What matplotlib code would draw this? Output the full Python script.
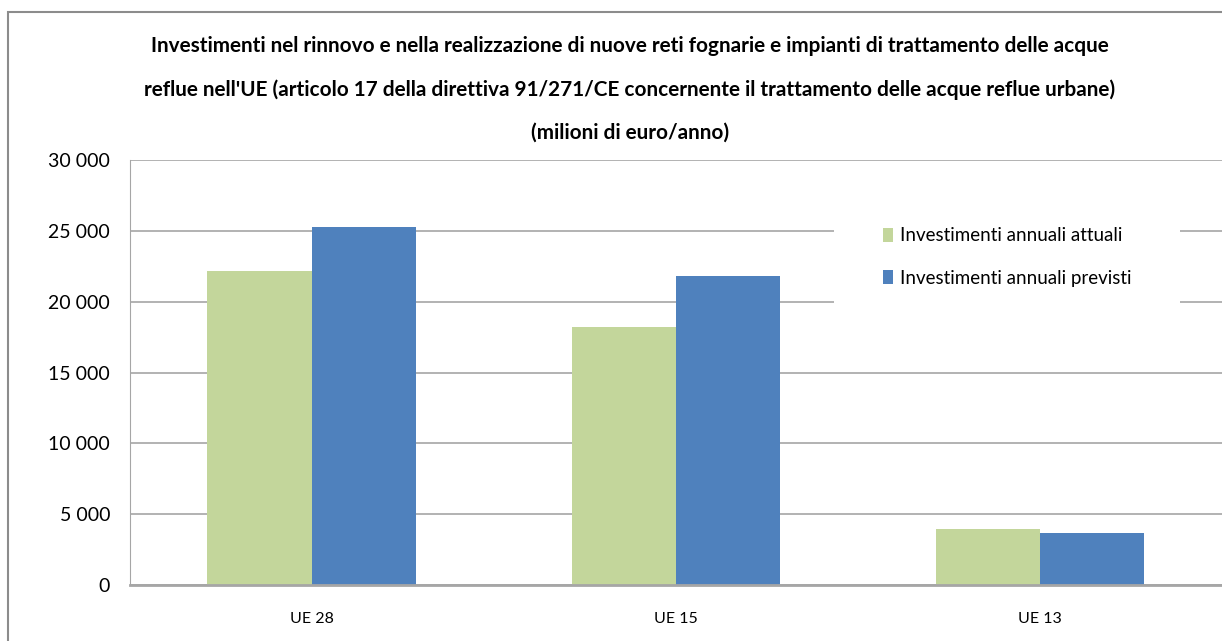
import matplotlib
matplotlib.use("Agg")
import matplotlib.pyplot as plt
from matplotlib.patches import Rectangle
from matplotlib.ticker import FuncFormatter
import numpy as np

# dati
categorie = ["UE 28", "UE 15", "UE 13"]
attuali = [22200, 18200, 3950]
previsti = [25300, 21800, 3620]
serie_labels = ["Investimenti annuali attuali", "Investimenti annuali previsti"]
titolo_righe = ["Investimenti nel rinnovo e nella realizzazione di nuove reti fognarie e impianti di trattamento delle acque",
                "reflue nell'UE (articolo 17 della direttiva 91/271/CE concernente il trattamento delle acque reflue urbane)",
                "(milioni di euro/anno)"]

plt.rcParams['font.family'] = ['Lato', 'DejaVu Sans']

W, H = 1222, 641
fig = plt.figure(figsize=(W / 100, H / 100), dpi=100)

# cornice esterna (tagliata a destra e in basso)
fig.patches.append(Rectangle((8 / W, -0.1), 1.2, 1 - 12 / H + 0.1, transform=fig.transFigure,
                             fill=False, edgecolor='#8c8c8c', linewidth=1.5))

ax = fig.add_axes([129.5 / W, 56.3 / H, 1 - 129.5 / W, (584.7 - 160.3) / H])

x = np.arange(len(categorie))
w = 0.286
ax.bar(x - w / 2, attuali, w, color='#C3D69B', label=serie_labels[0], zorder=2)
ax.bar(x + w / 2, previsti, w, color='#4F81BD', label=serie_labels[1], zorder=2)

ax.set_xlim(-0.5, 2.5)
ax.set_ylim(0, 30000)
ax.set_yticks(np.arange(0, 30001, 5000))
ax.yaxis.set_major_formatter(FuncFormatter(lambda v, p: f"{int(v):,}".replace(",", " ")))
ax.set_xticks(x)
ax.set_xticklabels(categorie)
ax.tick_params(axis='y', length=0, pad=14, labelsize=14)
ax.tick_params(axis='x', length=0, pad=20, labelsize=11.5)

ax.grid(axis='y', color='#a6a6a6', linewidth=1.2, zorder=0)
ax.set_axisbelow(True)
for s in ['top', 'right']:
    ax.spines[s].set_visible(False)
ax.spines['left'].set_color('#a6a6a6')
ax.spines['bottom'].set_color('#a6a6a6')
ax.spines['bottom'].set_linewidth(2)

leg = ax.legend(loc='center', bbox_to_anchor=(1007 / W, 1 - 257 / H), bbox_transform=fig.transFigure,
                frameon=True, fontsize=13.5, handlelength=0.55, handleheight=0.8, handletextpad=0.35,
                labelspacing=1.35, borderpad=2.6)
leg.get_frame().set_facecolor('white')
leg.get_frame().set_edgecolor('none')
leg.get_frame().set_alpha(1)

# titolo: una riga per volta, dimensione adattata alla larghezza della prima riga (~964 px)
righe_y = [46, 90, 133]
renderer = fig.canvas.get_renderer()
t0 = fig.text(630 / W, 1 - righe_y[0] / H, titolo_righe[0], ha='center', va='center',
              fontsize=16, fontweight='bold')
larg = t0.get_window_extent(renderer).width
fs = 16 * 964 / larg
t0.set_fontsize(fs)
for riga, yy in zip(titolo_righe[1:], righe_y[1:]):
    fig.text(630 / W, 1 - yy / H, riga, ha='center', va='center', fontsize=fs, fontweight='bold')

fig.savefig("out.png", dpi=100)
